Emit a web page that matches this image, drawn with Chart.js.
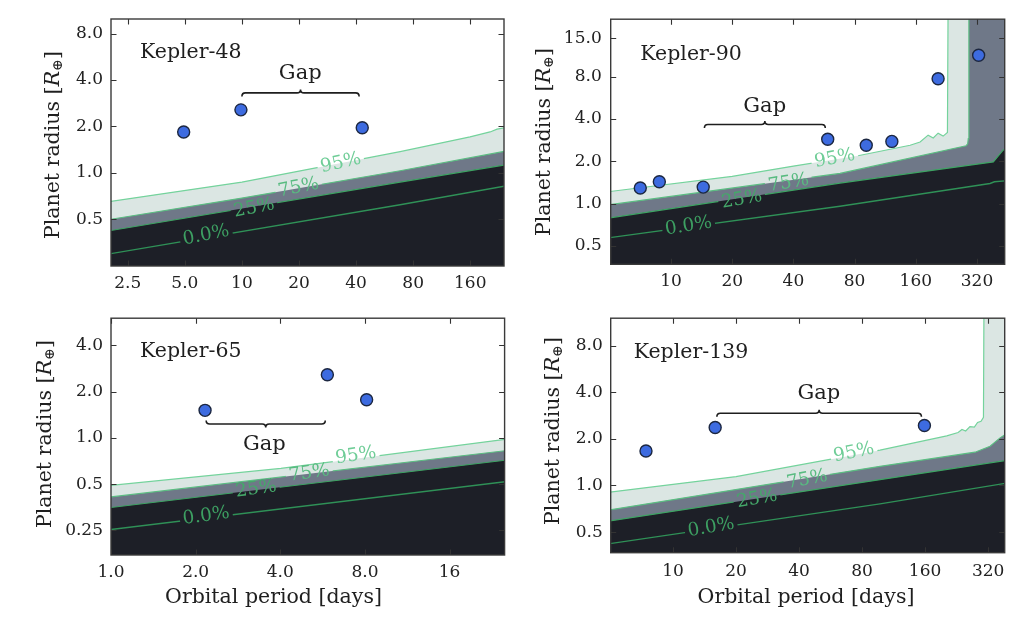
<!DOCTYPE html>
<html>
<head>
<meta charset="utf-8">
<title>Kepler systems: planet radius vs orbital period with detection contours</title>
<script src="https://cdn.jsdelivr.net/npm/chart.js@4.4.1/dist/chart.umd.min.js"></script>
<style>
html,body{margin:0;padding:0;background:#fff;}
body{width:1024px;height:618px;position:relative;overflow:hidden;}
canvas{position:absolute;}
</style>
</head>
<body>
<canvas id="k48" width="512" height="300" style="left:0;top:0"></canvas>
<canvas id="k90" width="512" height="300" style="left:512px;top:0"></canvas>
<canvas id="k65" width="512" height="318" style="left:0;top:300px"></canvas>
<canvas id="k139" width="512" height="318" style="left:512px;top:300px"></canvas>
<script>
// ---------------- data ----------------
const contourLabels = ['95%', '75%', '25%', '0.0%'];

// Kepler-48
const k48Period = [4.93, 9.88, 43.1];
const k48Radius = [1.84, 2.56, 1.96];
const k48C95x = [2.0, 10, 68.3, 159.6, 203.5, 221.5, 245];
const k48C95y = [0.65, 0.87, 1.37, 1.71, 1.84, 1.92, 1.96];
const k48C75x = [2.0, 10, 68.3, 245];
const k48C75y = [0.497, 0.685, 1.03, 1.38];
const k48C25x = [2.0, 68.3, 245];
const k48C25y = [0.42, 0.87, 1.125];
const k48C0x = [2.0, 68.3, 245];
const k48C0y = [0.297, 0.62, 0.82];
const k48LabelX = [33.2, 19.9, 11.6, 6.47];
const k48LabelY = [1.156, 0.80, 0.59, 0.393];
const k48XTicks = [2.5, 5, 10, 20, 40, 80, 160];
const k48XTickLabels = ['2.5', '5.0', '10', '20', '40', '80', '160'];
const k48YTicks = [0.5, 1, 2, 4, 8];
const k48YTickLabels = ['0.5', '1.0', '2.0', '4.0', '8.0'];
const k48GapRange = [10, 41.5];
const k48GapLevel = 3.3;
const k48GapText = [20.3, 4.38];

// Kepler-90
const k90Period = [7.06, 8.76, 14.4, 59.0, 91.3, 122, 206, 326];
const k90Radius = [1.29, 1.43, 1.31, 2.87, 2.60, 2.77, 7.73, 11.35];
const k90C95x = [4.8, 20, 40, 81.9, 150, 168, 184, 195, 206, 218, 229, 231, 500];
const k90C95y = [1.21, 1.56, 1.85, 2.18, 2.6, 2.74, 3.07, 2.93, 3.17, 3.02, 3.21, 40, 40];
const k90C75x = [4.8, 67.8, 283, 288, 290, 292, 500];
const k90C75y = [0.975, 1.64, 2.58, 2.66, 2.9, 40, 40];
const k90C25x = [4.8, 67.8, 385, 430, 460];
const k90C25y = [0.785, 1.40, 1.98, 2.4, 2.55];
const k90C0x = [4.8, 67.8, 371, 390, 460];
const k90C0y = [0.568, 0.957, 1.39, 1.43, 1.46];
const k90LabelX = [63.9, 37.9, 22.3, 12.2];
const k90LabelY = [2.09, 1.40, 1.07, 0.692];
const k90XTicks = [10, 20, 40, 80, 160, 320];
const k90XTickLabels = ['10', '20', '40', '80', '160', '320'];
const k90YTicks = [0.5, 1, 2, 4, 8, 15];
const k90YTickLabels = ['0.5', '1.0', '2.0', '4.0', '8.0', '15.0'];
const k90GapRange = [14.6, 57.4];
const k90GapLevel = 3.65;
const k90GapText = [28.9, 4.91];

// Kepler-65
const k65Period = [2.16, 5.88, 8.11];
const k65Radius = [1.51, 2.57, 1.77];
const k65C95x = [0.97, 4.02, 26];
const k65C95y = [0.488, 0.633, 0.985];
const k65C75x = [0.97, 26];
const k65C75y = [0.41, 0.83];
const k65C25x = [0.97, 26];
const k65C25y = [0.35, 0.72];
const k65C0x = [0.97, 26];
const k65C0y = [0.252, 0.522];
const k65LabelX = [7.42, 5.07, 3.28, 2.18];
const k65LabelY = [0.765, 0.589, 0.464, 0.31];
const k65XTicks = [1, 2, 4, 8, 16];
const k65XTickLabels = ['1.0', '2.0', '4.0', '8.0', '16'];
const k65YTicks = [0.25, 0.5, 1, 2, 4];
const k65YTickLabels = ['0.25', '0.5', '1.0', '2.0', '4.0'];
const k65GapRange = [2.18, 5.78];
const k65GapLevel = 1.23;
const k65GapText = [3.51, 0.905];

// Kepler-139
const k139Period = [7.43, 15.9, 158.8];
const k139Radius = [1.67, 2.37, 2.44];
const k139C95x = [4.8, 20, 97.5, 203, 230, 240, 250, 262, 275, 285, 296, 304, 306, 400];
const k139C95y = [0.9, 1.14, 1.69, 2.09, 2.2, 2.3, 2.25, 2.4, 2.38, 2.55, 2.6, 2.75, 20, 20];
const k139C75x = [4.8, 97.5, 277, 327, 365, 400];
const k139C75y = [0.69, 1.33, 1.64, 1.79, 2.03, 2.2];
const k139C25x = [4.8, 97.5, 400];
const k139C25y = [0.585, 1.09, 1.46];
const k139C0x = [4.8, 97.5, 400];
const k139C0y = [0.418, 0.761, 1.04];
const k139LabelX = [73, 43.7, 25.2, 15.2];
const k139LabelY = [1.63, 1.09, 0.817, 0.535];
const k139XTicks = [10, 20, 40, 80, 160, 320];
const k139XTickLabels = ['10', '20', '40', '80', '160', '320'];
const k139YTicks = [0.5, 1, 2, 4, 8];
const k139YTickLabels = ['0.5', '1.0', '2.0', '4.0', '8.0'];
const k139GapRange = [16.2, 153.7];
const k139GapLevel = 2.93;
const k139GapText = [49.7, 3.95];

// ---------------- styles ----------------
const LIGHT = '#dbe6e3', MID = '#6f7888', DARK = '#1d1f27';
const LINE_COL = ['#74d39c', '#5bbd82', '#3ea363', '#2f9157'];
const LABEL_COL = ['#6fcd97', '#58bb80', '#45a86a', '#3d9f62'];
const LINE_W = [1.2, 1.2, 1.2, 1.4];
const SERIF = '"DejaVu Serif", "Liberation Serif", serif';
const LABEL_FONT = '18.5px ' + SERIF;
const TEXT_COL = '#1f1f1f';

function pts(xs, ys) { return xs.map((x, i) => ({ x: x, y: ys[i] })); }

function labelGeom(chart, P, lines, i) {
  const xs = chart.scales.x, ys = chart.scales.y;
  const lx = P.labX[i], ly = P.labY[i];
  const LX = lines[i][0], LY = lines[i][1];
  let j = 0;
  while (j < LX.length - 2 && LX[j + 1] < lx) j++;
  const x1 = xs.getPixelForValue(LX[j]), y1 = ys.getPixelForValue(LY[j]);
  const x2 = xs.getPixelForValue(LX[j + 1]), y2 = ys.getPixelForValue(LY[j + 1]);
  const ang = Math.atan2(y2 - y1, x2 - x1) * 1.15;
  chart.ctx.save();
  chart.ctx.font = LABEL_FONT;
  const w = chart.ctx.measureText(contourLabels[i]).width;
  chart.ctx.restore();
  return { x: xs.getPixelForValue(lx), y: ys.getPixelForValue(ly), ang: ang, w: w + 6, h: 15 };
}

function drawLabel(chart, P, lines, i) {
  const g = labelGeom(chart, P, lines, i);
  const ctx = chart.ctx;
  ctx.save();
  ctx.translate(g.x, g.y);
  ctx.rotate(g.ang);
  ctx.font = LABEL_FONT;
  ctx.fillStyle = LABEL_COL[i];
  ctx.textAlign = 'center';
  ctx.textBaseline = 'middle';
  ctx.fillText(contourLabels[i], 0, 0);
  ctx.restore();
}

function drawBrace(ctx, x1, x2, y, dir) {
  const h = 3.5, xm = (x1 + x2) / 2;
  ctx.beginPath();
  ctx.moveTo(x1, y - dir * h);
  ctx.quadraticCurveTo(x1, y, x1 + h, y);
  ctx.lineTo(xm - h, y);
  ctx.quadraticCurveTo(xm, y, xm, y + dir * h);
  ctx.quadraticCurveTo(xm, y, xm + h, y);
  ctx.lineTo(x2 - h, y);
  ctx.quadraticCurveTo(x2, y, x2, y - dir * h);
  ctx.stroke();
}

function drawYTitle(ctx, cx, cy) {
  const parts = [
    ['Planet radius [', '20.5px ' + SERIF, 0],
    ['R', 'italic 21px ' + SERIF, 0],
    ['\u2295', '14px ' + SERIF, 4.5],
    [']', '20.5px ' + SERIF, 0]
  ];
  ctx.save();
  ctx.translate(cx, cy);
  ctx.rotate(-Math.PI / 2);
  ctx.fillStyle = TEXT_COL;
  ctx.textBaseline = 'middle';
  ctx.textAlign = 'left';
  let total = 0;
  const widths = parts.map(p => { ctx.font = p[1]; const w = ctx.measureText(p[0]).width; total += w; return w; });
  let x = -total / 2;
  parts.forEach((p, k) => { ctx.font = p[1]; ctx.fillText(p[0], x, p[2]); x += widths[k]; });
  ctx.restore();
}

function makeDecor(P, lines) {
  return {
    id: 'decor_' + P.id,
    beforeDatasetDraw(chart, args) {
      const ds = chart.data.datasets[args.index];
      if (ds.role === 'line') {
        const g = labelGeom(chart, P, lines, ds.labelIdx);
        const ctx = chart.ctx;
        ctx.save();
        ctx.beginPath();
        ctx.rect(0, 0, chart.width, chart.height);
        const c = Math.cos(g.ang), s = Math.sin(g.ang), hw = g.w / 2, hh = g.h / 2;
        [[-hw, -hh], [hw, -hh], [hw, hh], [-hw, hh]].forEach((q, k) => {
          const X = g.x + q[0] * c - q[1] * s, Y = g.y + q[0] * s + q[1] * c;
          if (k) ctx.lineTo(X, Y); else ctx.moveTo(X, Y);
        });
        ctx.closePath();
        ctx.clip('evenodd');
        ds._clipOn = true;
      }
    },
    afterDatasetDraw(chart, args) {
      const ds = chart.data.datasets[args.index];
      if (ds._clipOn) { chart.ctx.restore(); ds._clipOn = false; }
    },
    afterDatasetsDraw(chart) {
      const ctx = chart.ctx, xs = chart.scales.x, ys = chart.scales.y;
      [0, 1, 2, 3].forEach(i => drawLabel(chart, P, lines, i));
      // gap brace
      ctx.save();
      ctx.strokeStyle = '#1e1e1e';
      ctx.lineWidth = 1.6;
      drawBrace(ctx, xs.getPixelForValue(P.gapRange[0]), xs.getPixelForValue(P.gapRange[1]),
        ys.getPixelForValue(P.gapLevel), P.braceDir);
      ctx.font = '21px ' + SERIF;
      ctx.fillStyle = TEXT_COL;
      ctx.textAlign = 'center';
      ctx.textBaseline = 'middle';
      ctx.fillText('Gap', xs.getPixelForValue(P.gapText[0]), ys.getPixelForValue(P.gapText[1]));
      ctx.restore();
    },
    afterDraw(chart) {
      const ctx = chart.ctx, a = chart.chartArea, xs = chart.scales.x, ys = chart.scales.y;
      ctx.save();
      // tick marks (inward, all four sides)
      ctx.strokeStyle = '#333';
      ctx.lineWidth = 1.1;
      ctx.beginPath();
      const tl = 5.5;
      P.yTicks.forEach(v => {
        const y = Math.round(ys.getPixelForValue(v)) + 0.5;
        ctx.moveTo(a.left, y); ctx.lineTo(a.left + tl, y);
        ctx.moveTo(a.right, y); ctx.lineTo(a.right - tl, y);
      });
      P.xTicks.forEach(v => {
        const x = Math.round(xs.getPixelForValue(v)) + 0.5;
        ctx.moveTo(x, a.top); ctx.lineTo(x, a.top + tl);
        ctx.moveTo(x, a.bottom); ctx.lineTo(x, a.bottom - tl);
      });
      ctx.stroke();
      // frame
      ctx.strokeStyle = '#3a3a3a';
      ctx.lineWidth = 1.4;
      ctx.strokeRect(a.left, a.top, a.right - a.left, a.bottom - a.top);
      // system name
      ctx.font = '20.5px ' + SERIF;
      ctx.fillStyle = TEXT_COL;
      ctx.textAlign = 'left';
      ctx.textBaseline = 'alphabetic';
      ctx.fillText(P.name, a.left + P.nameDx, a.top + P.nameDy);
      // axis titles
      drawYTitle(ctx, P.yTitlePos[0], P.yTitlePos[1]);
      if (P.xTitlePos) {
        ctx.font = '20.5px ' + SERIF;
        ctx.fillStyle = TEXT_COL;
        ctx.textAlign = 'center';
        ctx.textBaseline = 'middle';
        ctx.fillText('Orbital period [days]', P.xTitlePos[0], P.xTitlePos[1]);
      }
      ctx.restore();
    }
  };
}

function makePanel(P) {
  const lines = [[P.c95x, P.c95y], [P.c75x, P.c75y], [P.c25x, P.c25y], [P.c0x, P.c0y]];
  const fillBase = { borderWidth: 0, borderColor: 'rgba(0,0,0,0)', pointRadius: 0, pointHoverRadius: 0, fill: 'start', tension: 0 };
  const datasets = [
    Object.assign({ role: 'fill', data: pts(P.c95x, P.c95y), backgroundColor: LIGHT, order: 10 }, fillBase),
    Object.assign({ role: 'fill', data: pts(P.c75x, P.c75y), backgroundColor: MID, order: 9 }, fillBase),
    Object.assign({ role: 'fill', data: pts(P.c25x, P.c25y), backgroundColor: DARK, order: 8 }, fillBase)
  ];
  for (let i = 3; i >= 0; i--) {
    datasets.push({
      role: 'line', labelIdx: i, data: pts(lines[i][0], lines[i][1]), fill: false,
      borderColor: LINE_COL[i], borderWidth: LINE_W[i], pointRadius: 0, pointHoverRadius: 0,
      tension: 0, order: 5
    });
  }
  datasets.push({
    role: 'planets', data: pts(P.period, P.radius), showLine: false, pointRadius: 6, pointHoverRadius: 6,
    pointBackgroundColor: '#3d6be0', pointBorderColor: '#1c2741', pointBorderWidth: 1.4, order: 0
  });
  const tickFont = { family: SERIF, size: 17 };
  new Chart(document.getElementById(P.id), {
    type: 'line',
    data: { datasets: datasets },
    plugins: [makeDecor(P, lines)],
    options: {
      responsive: false,
      devicePixelRatio: 1,
      animation: false,
      events: [],
      layout: { padding: { top: P.padTop, right: P.padRight, left: 0, bottom: 0 } },
      plugins: { legend: { display: false }, tooltip: { enabled: false } },
      scales: {
        x: {
          type: 'logarithmic', min: P.xMin, max: P.xMax,
          grid: { display: false, drawTicks: false }, border: { display: false },
          afterBuildTicks: ax => { ax.ticks = P.xTicks.map(v => ({ value: v })); },
          afterFit: ax => { ax.height = P.xAxisH; },
          ticks: { autoSkip: false, maxRotation: 0, minRotation: 0, padding: P.xPad, color: '#222', font: tickFont,
            callback: (v, i) => P.xTickLabels[i] }
        },
        y: {
          type: 'logarithmic', min: P.yMin, max: P.yMax,
          grid: { display: false, drawTicks: false }, border: { display: false },
          afterBuildTicks: ax => { ax.ticks = P.yTicks.map(v => ({ value: v })); },
          afterFit: ax => { ax.width = P.yAxisW; },
          ticks: { autoSkip: false, padding: P.yPad, color: '#222', font: tickFont,
            callback: (v, i) => P.yTickLabels[i] }
        }
      }
    }
  });
}

makePanel({
  id: 'k48', name: 'Kepler-48', period: k48Period, radius: k48Radius,
  c95x: k48C95x, c95y: k48C95y, c75x: k48C75x, c75y: k48C75y, c25x: k48C25x, c25y: k48C25y, c0x: k48C0x, c0y: k48C0y,
  labX: k48LabelX, labY: k48LabelY, xTicks: k48XTicks, xTickLabels: k48XTickLabels, yTicks: k48YTicks, yTickLabels: k48YTickLabels,
  gapRange: k48GapRange, gapLevel: k48GapLevel, gapText: k48GapText, braceDir: -1,
  xMin: 2.04, xMax: 241, yMin: 0.248, yMax: 9.96,
  padTop: 19, padRight: 8, yAxisW: 111, xAxisH: 34, xPad: 7, yPad: 8,
  nameDx: 29, nameDy: 38.5, yTitlePos: [54, 145], xTitlePos: null
});
makePanel({
  id: 'k90', name: 'Kepler-90', period: k90Period, radius: k90Radius,
  c95x: k90C95x, c95y: k90C95y, c75x: k90C75x, c75y: k90C75y, c25x: k90C25x, c25y: k90C25y, c0x: k90C0x, c0y: k90C0y,
  labX: k90LabelX, labY: k90LabelY, xTicks: k90XTicks, xTickLabels: k90XTickLabels, yTicks: k90YTicks, yTickLabels: k90YTickLabels,
  gapRange: k90GapRange, gapLevel: k90GapLevel, gapText: k90GapText, braceDir: -1,
  xMin: 5.05, xMax: 438, yMin: 0.37, yMax: 20.5,
  padTop: 15.7, padRight: 19.3, yAxisW: 98.7, xAxisH: 35.7, xPad: 7, yPad: 9,
  nameDx: 29.6, nameDy: 40.3, yTitlePos: [33, 142], xTitlePos: null
});
makePanel({
  id: 'k65', name: 'Kepler-65', period: k65Period, radius: k65Radius,
  c95x: k65C95x, c95y: k65C95y, c75x: k65C75x, c75y: k65C75y, c25x: k65C25x, c25y: k65C25y, c0x: k65C0x, c0y: k65C0y,
  labX: k65LabelX, labY: k65LabelY, xTicks: k65XTicks, xTickLabels: k65XTickLabels, yTicks: k65YTicks, yTickLabels: k65YTickLabels,
  gapRange: k65GapRange, gapLevel: k65GapLevel, gapText: k65GapText, braceDir: 1,
  xMin: 1.0, xMax: 25.1, yMin: 0.173, yMax: 6.0,
  padTop: 7.3, padRight: 7, yAxisW: 111, xAxisH: 63, xPad: 7.5, yPad: 8,
  nameDx: 29, nameDy: 39.2, yTitlePos: [46, 134], xTitlePos: [273.5, 298]
});
makePanel({
  id: 'k139', name: 'Kepler-139', period: k139Period, radius: k139Radius,
  c95x: k139C95x, c95y: k139C95y, c75x: k139C75x, c75y: k139C75y, c25x: k139C25x, c25y: k139C25y, c0x: k139C0x, c0y: k139C0y,
  labX: k139LabelX, labY: k139LabelY, xTicks: k139XTicks, xTickLabels: k139XTickLabels, yTicks: k139YTicks, yTickLabels: k139YTickLabels,
  gapRange: k139GapRange, gapLevel: k139GapLevel, gapText: k139GapText, braceDir: -1,
  xMin: 5.04, xMax: 384, yMin: 0.368, yMax: 12.03,
  padTop: 5, padRight: 19.3, yAxisW: 98.7, xAxisH: 65.3, xPad: 8.5, yPad: 8,
  nameDx: 23, nameDy: 39.5, yTitlePos: [42, 131], xTitlePos: [294, 298]
});
</script>
</body>
</html>
